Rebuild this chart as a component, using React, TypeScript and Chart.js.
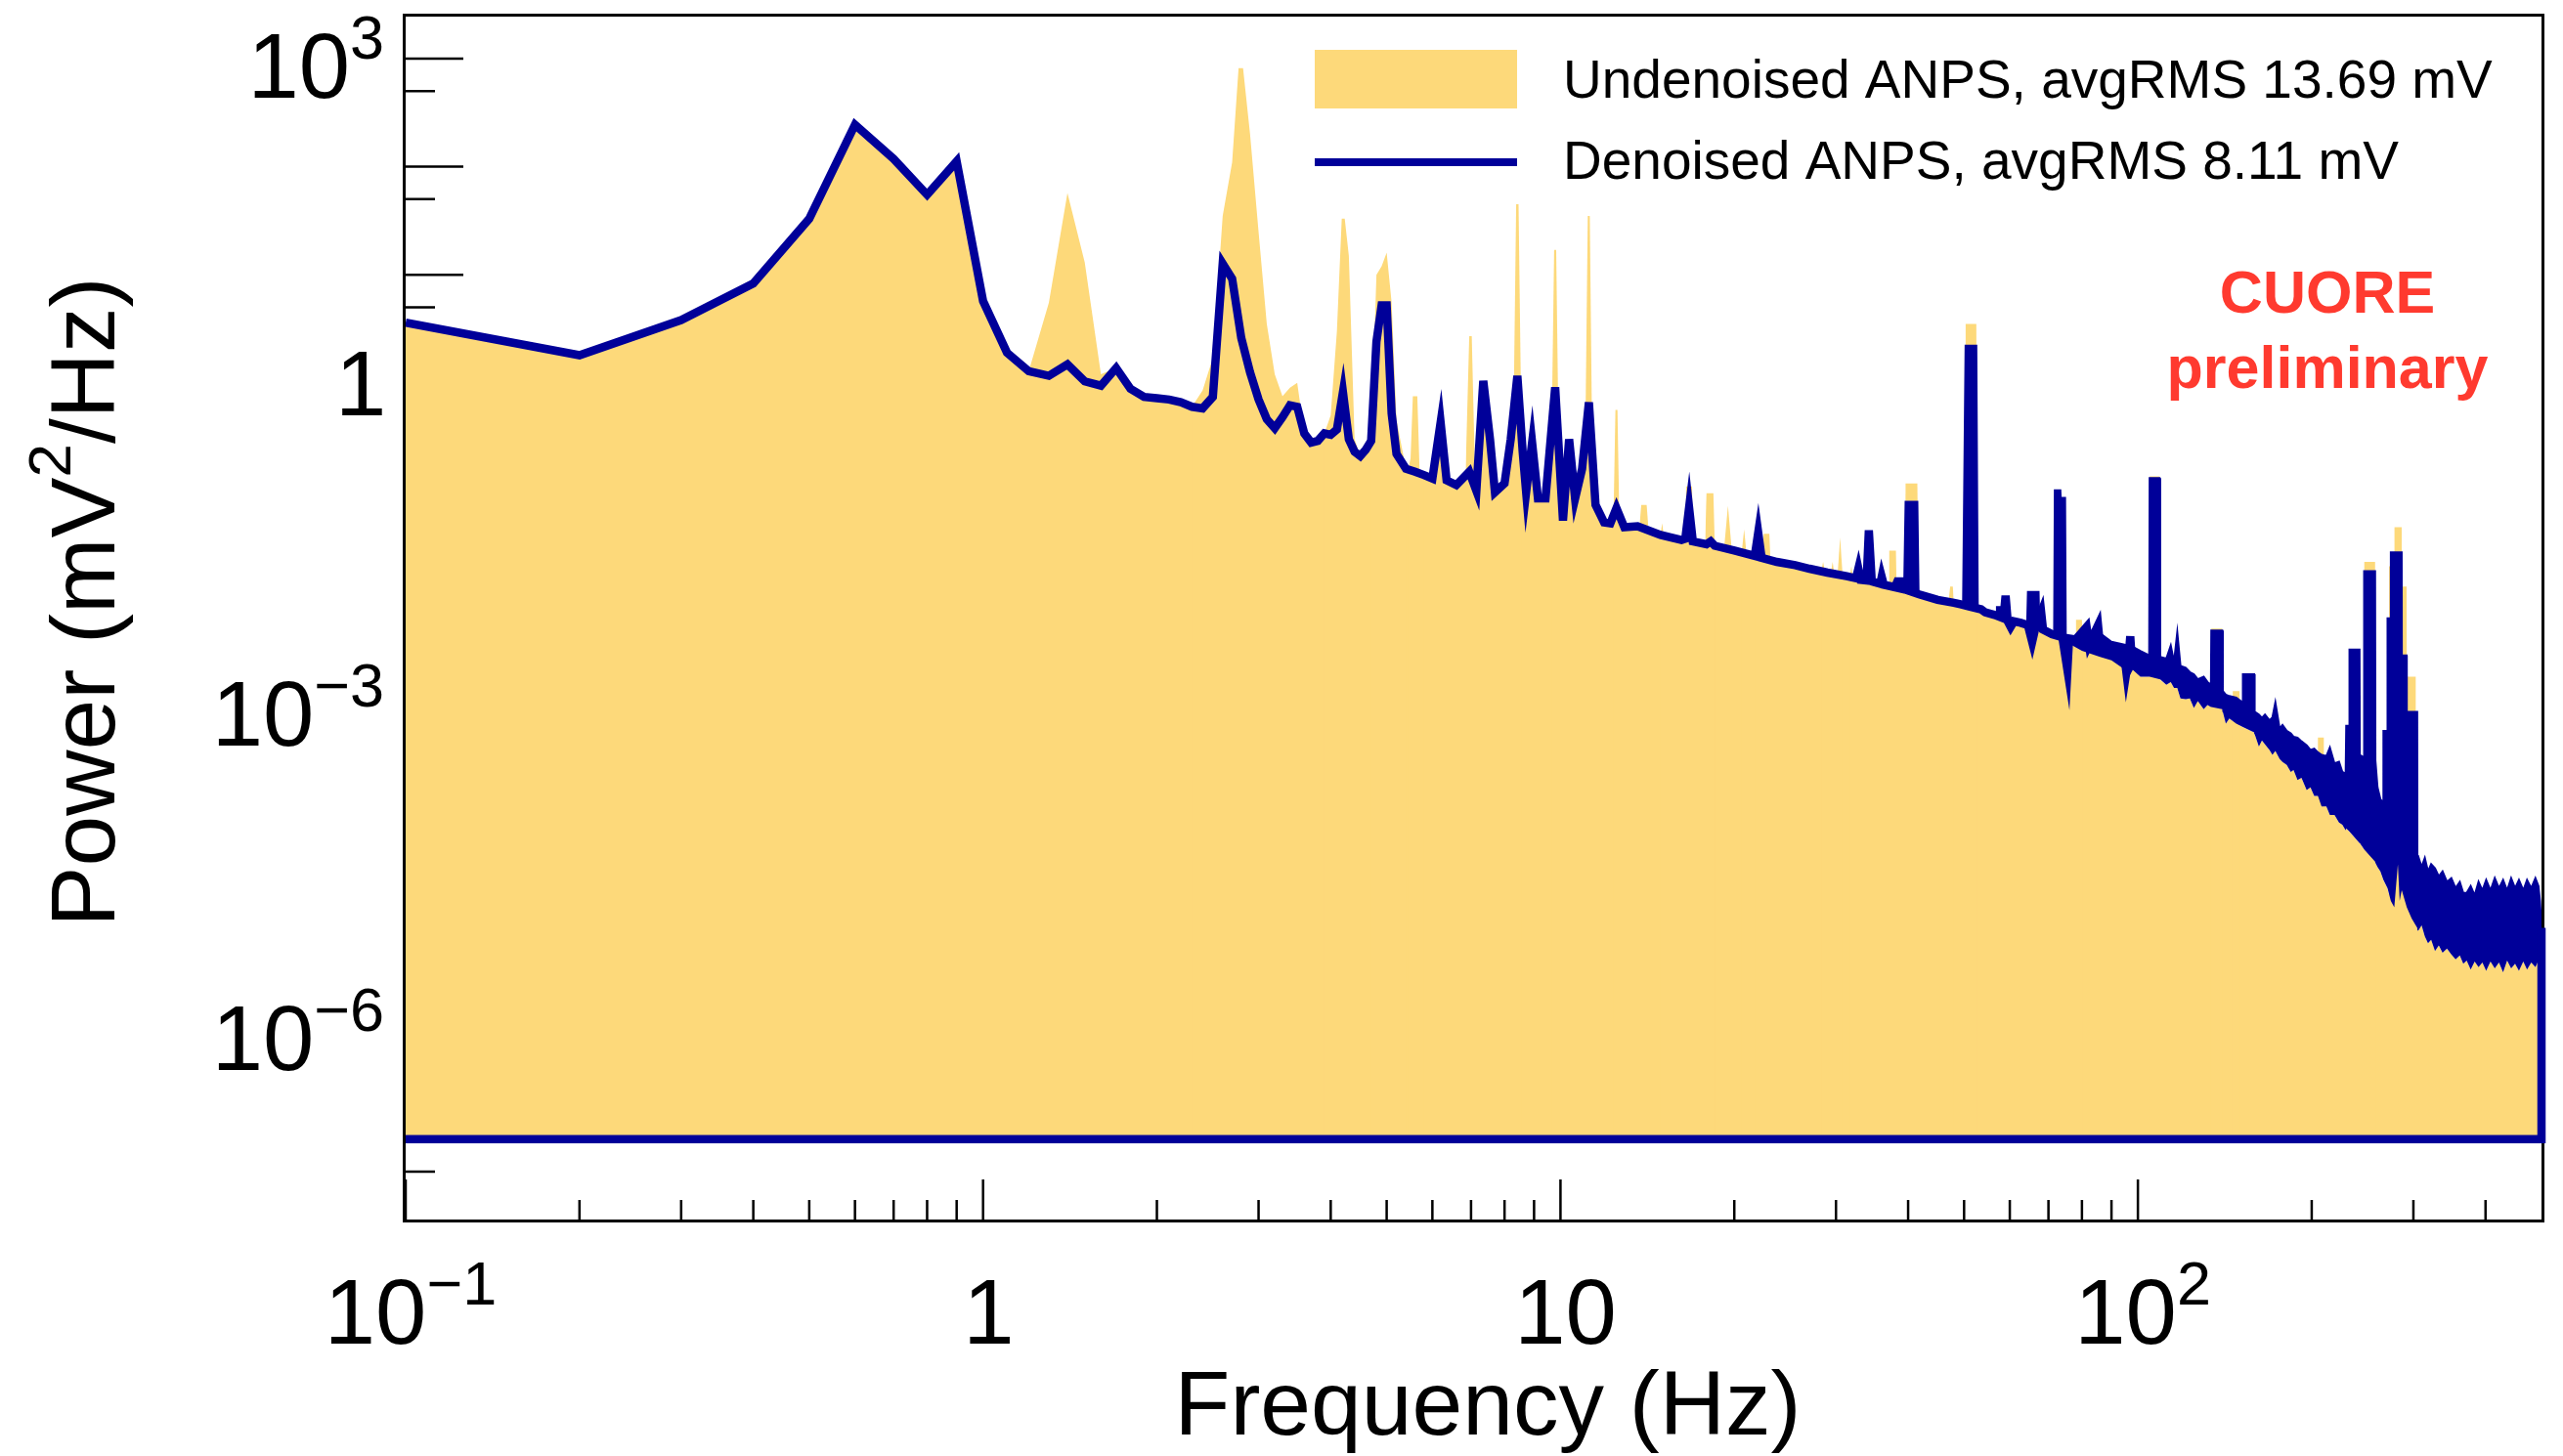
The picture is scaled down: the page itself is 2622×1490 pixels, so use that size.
import React, { useEffect, useRef } from 'react';
import { Chart, registerables } from 'chart.js';

Chart.register(...registerables);

const FONT = '"Liberation Sans", Arial, Helvetica, sans-serif';
const BLUE = '#000099';
const YELLOW = '#fdd97a';
const RED = '#ff3a2f';

const X_MIN = 0.1;
const X_MAX = 500;
const Y_MIN = 1.8e-8;
const Y_MAX = 2450;
const BASELINE = 1e-7;

type P = [number, number];

// Denoised ANPS, centre of the drawn line, frequency (Hz) / power (mV^2/Hz)
const denoisedLine: P[] = [
  [0.1, 3.6], [0.2, 1.8], [0.3, 3.8], [0.4, 8.3], [0.5, 33], [0.6, 245], [0.7, 118], [0.8, 55], [0.9, 112], [1.0, 5.7],
  [1.1, 1.9], [1.2, 1.28], [1.3, 1.16], [1.4, 1.48], [1.5, 1.03], [1.6, 0.94], [1.7, 1.37], [1.8, 0.88], [1.9, 0.74], [2.0, 0.72],
  [2.1, 0.7], [2.2, 0.66], [2.3, 0.6], [2.4, 0.58], [2.5, 0.74], [2.6, 12.7], [2.7, 9.2], [2.8, 2.6], [2.9, 1.25], [3.0, 0.7],
  [3.1, 0.46], [3.2, 0.38], [3.3, 0.48], [3.4, 0.62], [3.5, 0.6], [3.6, 0.34], [3.7, 0.28], [3.8, 0.29], [3.9, 0.34], [4.0, 0.33],
  [4.1, 0.37], [4.2, 0.82], [4.3, 0.3], [4.4, 0.23], [4.5, 0.21], [4.6, 0.24], [4.7, 0.29], [4.8, 2.4], [4.9, 5.2], [5.0, 5.2],
  [5.1, 0.52], [5.2, 0.22], [5.4, 0.16], [5.6, 0.15], [5.8, 0.14], [6.0, 0.13], [6.2, 0.43], [6.35, 0.125], [6.6, 0.113], [6.95, 0.15],
  [7.15, 0.1], [7.35, 1.04], [7.55, 0.3], [7.7, 0.097], [8.0, 0.117], [8.2, 0.3], [8.42, 1.16], [8.6, 0.23], [8.72, 0.097], [8.93, 0.28],
  [9.14, 0.085], [9.42, 0.085], [9.79, 0.91], [10.1, 0.053], [10.35, 0.3], [10.6, 0.085], [10.9, 0.16], [11.2, 0.66], [11.5, 0.074], [11.9, 0.051],
  [12.2, 0.05], [12.5, 0.069], [12.9, 0.046], [13.6, 0.047], [14.9, 0.039], [16.2, 0.035], [16.45, 0.036], [16.7, 0.07], [16.95, 0.034], [17.9, 0.032],
  [18.2, 0.034], [18.5, 0.031], [20, 0.028], [21.7, 0.025], [22.0, 0.041], [22.3, 0.024], [23.7, 0.022], [25.5, 0.0205], [27, 0.019], [29, 0.0175],
  [31.3, 0.0162], [32.5, 0.0155], [32.8, 0.019], [33.1, 0.015], [33.9, 0.0148], [34.2, 0.043], [34.6, 0.0145], [35.8, 0.0138], [36.0, 0.016], [36.3, 0.0135],
  [38, 0.0128], [39.5, 0.0122], [41.8, 0.011], [45, 0.0098], [48, 0.0092], [49.3, 0.0089], [51, 0.0085], [53.5, 0.008], [54.4, 0.0075], [56.5, 0.0071],
  [58.5, 0.0066], [59.0, 0.0107], [59.5, 0.0062], [60.2, 0.0055], [61, 0.0062], [62.7, 0.006], [64.5, 0.0057], [65.6, 0.004], [66.5, 0.0055], [68, 0.0075],
  [68.5, 0.0052], [71, 0.0047], [74, 0.0044], [75.5, 0.0022], [76, 0.0043], [78, 0.0042], [81.5, 0.0055], [82.3, 0.0038], [85.3, 0.0057], [86, 0.0036],
  [90, 0.0033], [94.8, 0.0029], [95.5, 0.0021], [96.3, 0.0028], [97, 0.0045], [97.6, 0.0027], [100, 0.0026],
];

// Denoised ANPS dense band: frequency, upper envelope, lower envelope
const denoisedBand: [number, number, number][] = [
  [37.5, 0.0131, 0.0129], [38.0, 0.0155, 0.0126], [39.4, 0.0155, 0.0122], [39.6, 0.079, 0.0121], [41.5, 0.079, 0.0112],
  [41.7, 0.0112, 0.011], [49.8, 0.0089, 0.0087], [50.3, 2.2, 0.0087], [52.5, 2.2, 0.0082], [52.8, 0.0081, 0.0079],
  [56.8, 0.0071, 0.0069], [57.0, 0.0084, 0.0069], [58.2, 0.0084, 0.0067], [58.4, 0.0067, 0.0065], [64.3, 0.0058, 0.0055],
  [64.5, 0.0116, 0.0055], [67.3, 0.0116, 0.0052], [67.5, 0.0052, 0.005], [71.6, 0.0047, 0.0045], [71.8, 0.101, 0.0045],
  [73.4, 0.101, 0.0044], [73.5, 0.086, 0.0044], [74.8, 0.086, 0.0043], [75.0, 0.0043, 0.004], [80, 0.0045, 0.0033],
  [86, 0.0048, 0.0029], [90, 0.004, 0.0027], [94, 0.0038, 0.0023], [96, 0.0037, 0.0018], [98, 0.0036, 0.0022], [101, 0.0033, 0.0019], [104.6, 0.003, 0.0019],
  [104.8, 0.131, 0.0019], [109.0, 0.131, 0.0018], [109.3, 0.0029, 0.0018], [112, 0.0028, 0.0016], [114, 0.0037, 0.0017],
  [115.5, 0.0026, 0.0015], [117, 0.0049, 0.0015], [118.5, 0.0024, 0.0012], [121, 0.0023, 0.00118], [123, 0.0021, 0.0012],
  [125, 0.002, 0.00098], [127, 0.0018, 0.00113], [130, 0.0019, 0.00095], [132, 0.0017, 0.00104], [133.8, 0.0016, 0.001], [134, 0.0051, 0.001],
  [140, 0.0051, 0.00095], [140.3, 0.0014, 0.0009], [142, 0.0013, 0.0007], [144, 0.00126, 0.00078], [148, 0.00122, 0.0007], [151.8, 0.0011, 0.00065],
  [152, 0.002, 0.00065], [159, 0.002, 0.00058], [159.3, 0.0009, 0.00056], [162, 0.00085, 0.00043], [164, 0.00079, 0.00049], [166, 0.00085, 0.00045],
  [169, 0.00075, 0.0004], [171, 0.0008, 0.00036], [173, 0.0011, 0.00039], [176, 0.00063, 0.00033], [178, 0.00068, 0.00031], [181, 0.0006, 0.00029],
  [184, 0.00057, 0.00025], [186, 0.00053, 0.00026], [189, 0.00052, 0.00021], [192, 0.00048, 0.00022], [196, 0.00044, 0.00017],
  [199, 0.0004, 0.00018], [202, 0.00041, 0.00015], [205, 0.00038, 0.00015], [208, 0.00036, 0.00012], [212, 0.00035, 0.00012],
  [215, 0.00042, 0.0001], [219, 0.0003, 0.0001], [223, 0.00031, 0.000085], [226, 0.00025, 0.000081], [229, 0.00024, 0.000072],
  [229.5, 0.00067, 0.000075], [232.3, 0.00067, 0.00007], [232.5, 0.0034, 0.00007], [242, 0.0034, 0.000055], [242.3, 0.00036, 0.000055],
  [246.3, 0.00034, 0.000048], [246.5, 0.018, 0.000048], [257.5, 0.018, 0.000037], [257.8, 0.00032, 0.000036], [260, 0.00018, 0.000033],
  [263, 0.00014, 0.00003], [266, 0.00013, 0.000025], [266.2, 0.0006, 0.000025], [270.4, 0.0006, 0.000021], [270.6, 0.0066, 0.000021],
  [274.0, 0.0066, 0.000016], [274.2, 0.027, 0.000016], [278, 0.027, 0.000014], [282, 0.027, 0.000035], [284, 0.027, 0.000016],
  [286.3, 0.027, 0.00002], [286.5, 0.003, 0.00002], [292, 0.003, 0.000014], [292.2, 0.0009, 0.000014], [298, 0.0009, 0.000011],
  [304.6, 0.0009, 0.000009], [304.8, 0.00004, 0.0000085], [306, 0.000041, 0.0000085], [310, 0.000033, 0.0000095], [314, 0.00004, 0.0000075],
  [318, 0.00003, 0.0000065], [322, 0.000035, 0.000007], [327, 0.000032, 0.0000055], [332, 0.000027, 0.0000062], [337, 0.00003, 0.0000053],
  [343, 0.000024, 0.0000058], [349, 0.000026, 0.0000051], [355, 0.000021, 0.0000046], [361, 0.000024, 0.000005], [366, 0.000019, 0.0000042],
  [371, 0.000019, 0.0000045], [377, 0.000022, 0.0000037], [383, 0.000018, 0.0000044], [389, 0.000024, 0.0000039], [395, 0.00002, 0.0000043],
  [401, 0.000025, 0.0000036], [408, 0.00002, 0.0000044], [415, 0.000026, 0.0000038], [422, 0.000021, 0.0000043], [429, 0.000025, 0.0000035],
  [436, 0.00002, 0.0000045], [443, 0.000026, 0.0000038], [450, 0.000021, 0.0000042], [457, 0.000025, 0.0000036], [465, 0.00002, 0.0000044],
  [472, 0.000025, 0.0000037], [480, 0.000021, 0.0000043], [488, 0.000026, 0.0000039], [494, 0.000022, 0.0000045], [497, 0.000016, 0.0000045],
  [500, 0.000009, 0.0000045],
];

// Undenoised ANPS lines rising above the denoised spectrum
const undenoisedPeaks: P[][] = [
  [[1.2, 1.28], [1.3, 5.5], [1.4, 57], [1.5, 13], [1.6, 1.2], [1.7, 1.37]],
  [[2.3, 0.6], [2.4, 0.85], [2.5, 1.7], [2.6, 35], [2.7, 110], [2.77, 815], [2.82, 815], [2.9, 200], [3.0, 25], [3.1, 3.5], [3.2, 1.2], [3.3, 0.75], [3.4, 0.9], [3.5, 1.0], [3.6, 0.34]],
  [[3.9, 0.34], [4.0, 0.5], [4.1, 3], [4.18, 33], [4.23, 33], [4.3, 15], [4.4, 0.3], [4.5, 0.21]],
  [[4.7, 0.29], [4.8, 10], [4.9, 12], [5.0, 16], [5.1, 5.5], [5.2, 0.45], [5.4, 0.16]],
  [[5.45, 0.16], [5.5, 0.2], [5.55, 0.75], [5.65, 0.75], [5.7, 0.16], [5.8, 0.14]],
  [[6.85, 0.15], [6.95, 2.7], [7.02, 2.7], [7.12, 0.11]],
  [[8.28, 0.25], [8.38, 45], [8.46, 45], [8.56, 0.3]],
  [[9.64, 0.2], [9.75, 17], [9.83, 17], [9.95, 0.1]],
  [[11.03, 0.2], [11.15, 35], [11.24, 35], [11.36, 0.15]],
  [[12.35, 0.05], [12.45, 0.56], [12.55, 0.56], [12.65, 0.05]],
  [[13.7, 0.046], [13.8, 0.074], [14.1, 0.074], [14.2, 0.045]],
  [[14.9, 0.039], [15.0, 0.05], [15.1, 0.038]],
  [[16.45, 0.036], [16.5, 0.11], [16.9, 0.11], [16.95, 0.034]],
  [[17.8, 0.032], [17.9, 0.095], [18.4, 0.095], [18.5, 0.031]],
  [[19.2, 0.029], [19.5, 0.073], [19.8, 0.028]],
  [[20.6, 0.027], [20.8, 0.044], [21.0, 0.026]],
  [[21.7, 0.025], [22.0, 0.063], [22.3, 0.024], [22.5, 0.04], [23.0, 0.04], [23.1, 0.023]],
  [[28.3, 0.018], [28.5, 0.022], [28.7, 0.018]],
  [[29.4, 0.0175], [29.6, 0.022], [29.8, 0.017]],
  [[30.2, 0.017], [30.5, 0.037], [30.8, 0.0165]],
  [[31.7, 0.016], [31.9, 0.02], [32.1, 0.0158]],
  [[37.0, 0.013], [37.1, 0.028], [38.1, 0.028], [38.2, 0.0127]],
  [[39.5, 0.0122], [39.6, 0.117], [41.5, 0.117], [41.7, 0.011]],
  [[47.0, 0.0094], [47.3, 0.013], [47.8, 0.013], [48.0, 0.0092]],
  [[50.2, 0.0087], [50.3, 3.5], [52.5, 3.5], [52.7, 0.0081]],
  [[78.0, 0.0042], [78.1, 0.0064], [80.0, 0.0064], [80.2, 0.0041]],
  [[104.6, 0.0019], [104.8, 0.136], [109.0, 0.136], [109.3, 0.0018]],
  [[133.8, 0.001], [134.0, 0.0053], [140.0, 0.0053], [140.3, 0.0009]],
  [[145.8, 0.0007], [146.0, 0.0014], [150.0, 0.0014], [150.2, 0.00068]],
  [[204.8, 0.00015], [205.0, 0.00052], [210.0, 0.00052], [210.2, 0.00013]],
  [[246.3, 0.000048], [246.5, 0.022], [257.5, 0.022], [257.8, 0.000036]],
  [[272.0, 0.00002], [272.2, 0.02], [278.0, 0.02], [278.2, 0.046], [286.3, 0.046], [286.5, 0.013], [292.0, 0.013], [292.2, 0.0019], [303.0, 0.0019], [303.2, 0.00001]],
];

const lastBin: P = [500, 0.000009];

const xTickMultipliers = [1, 2, 3, 4, 5, 6, 7, 8, 9];
const yTickMultipliers = [1, 5];
const xLabelExps = [-1, 0, 1, 2];
const yLabelExps = [3, 0, -3, -6];
const legendLabels = ['Undenoised ANPS, avgRMS 13.69 mV', 'Denoised ANPS, avgRMS 8.11 mV'];
const stampLines = ['CUORE', 'preliminary'];
const xTitle = 'Frequency (Hz)';
const yTitleParts = ['Power (mV', '2', '/Hz)'];

function drawPower(
  ctx: CanvasRenderingContext2D,
  exp: number,
  anchorX: number,
  baseY: number,
  expY: number,
  mode: 'right' | 'center',
  baseSize: number,
  expSize: number,
) {
  const base = exp === 0 ? '1' : '10';
  const sup = exp === 0 || exp === 1 ? '' : (exp < 0 ? '\u2212' : '') + Math.abs(exp);
  ctx.textAlign = 'left';
  ctx.textBaseline = 'alphabetic';
  ctx.font = `${baseSize}px ${FONT}`;
  const mb = ctx.measureText(base);
  let meRight = 0;
  if (sup) {
    ctx.font = `${expSize}px ${FONT}`;
    meRight = ctx.measureText(sup).actualBoundingBoxRight;
  }
  const inkLeft = -mb.actualBoundingBoxLeft;
  const inkRight = sup ? mb.width + meRight : mb.actualBoundingBoxRight;
  const left = mode === 'right' ? anchorX - inkRight : anchorX - (inkLeft + inkRight) / 2;
  ctx.font = `${baseSize}px ${FONT}`;
  ctx.fillText(base, left, baseY);
  if (sup) {
    ctx.font = `${expSize}px ${FONT}`;
    ctx.fillText(sup, left + mb.width, expY);
  }
}

const rootStyle = {
  id: 'rootStyle',
  beforeDatasetsDraw(chart: any) {
    const { ctx, chartArea: a, scales } = chart;
    const x = scales.x;
    const y = scales.y;
    ctx.save();
    ctx.strokeStyle = '#000';
    ctx.lineWidth = 3;
    ctx.strokeRect(a.left - 1.5, a.top - 1.5, a.right - a.left + 3, a.bottom - a.top + 3);
    ctx.lineWidth = 2.5;
    ctx.beginPath();
    for (let k = -9; k <= 4; k++) {
      for (const m of yTickMultipliers) {
        const v = m * Math.pow(10, k);
        if (v < Y_MIN || v > Y_MAX) continue;
        const py = y.getPixelForValue(v);
        ctx.moveTo(a.left, py);
        ctx.lineTo(a.left + (m === 1 ? 59 : 30), py);
      }
    }
    for (let k = -1; k <= 2; k++) {
      for (const m of xTickMultipliers) {
        const v = m * Math.pow(10, k);
        if (v < X_MIN || v >= X_MAX) continue;
        const px = x.getPixelForValue(v);
        ctx.moveTo(px, a.bottom);
        ctx.lineTo(px, a.bottom - (m === 1 ? 41 : 20));
      }
    }
    ctx.stroke();
    ctx.restore();
  },
  afterDraw(chart: any) {
    const { ctx, scales } = chart;
    const x = scales.x;
    const y = scales.y;
    ctx.save();
    ctx.fillStyle = '#000';
    for (const e of yLabelExps) {
      const py = y.getPixelForValue(Math.pow(10, e));
      if (e === 0) drawPower(ctx, e, 391, py + 33, py, 'right', 94, 63);
      else drawPower(ctx, e, 391, py + 40, py, 'right', 94, 63);
    }
    for (const e of xLabelExps) {
      const px = x.getPixelForValue(Math.pow(10, e));
      drawPower(ctx, e, px + 7, 1375, 1335, 'center', 94, 63);
    }
    ctx.font = `93px ${FONT}`;
    ctx.textAlign = 'center';
    ctx.textBaseline = 'alphabetic';
    ctx.fillText(xTitle, 1522, 1468);
    ctx.save();
    ctx.translate(117, 616);
    ctx.rotate(-Math.PI / 2);
    ctx.textAlign = 'left';
    ctx.font = `93px ${FONT}`;
    const w1 = ctx.measureText(yTitleParts[0]).width;
    const w3 = ctx.measureText(yTitleParts[2]).width;
    ctx.font = `62px ${FONT}`;
    const w2 = ctx.measureText(yTitleParts[1]).width;
    let sx = -(w1 + w2 + w3) / 2;
    ctx.font = `93px ${FONT}`;
    ctx.fillText(yTitleParts[0], sx, 0);
    sx += w1;
    ctx.font = `62px ${FONT}`;
    ctx.fillText(yTitleParts[1], sx, -45);
    sx += w2;
    ctx.font = `93px ${FONT}`;
    ctx.fillText(yTitleParts[2], sx, 0);
    ctx.restore();
    ctx.fillStyle = YELLOW;
    ctx.fillRect(1345, 51, 207, 60);
    ctx.strokeStyle = BLUE;
    ctx.lineWidth = 8;
    ctx.lineCap = 'butt';
    ctx.beginPath();
    ctx.moveTo(1345, 166);
    ctx.lineTo(1552, 166);
    ctx.stroke();
    ctx.fillStyle = '#000';
    ctx.font = `55px ${FONT}`;
    ctx.textAlign = 'left';
    ctx.fillText(legendLabels[0], 1599, 100);
    ctx.fillText(legendLabels[1], 1599, 183);
    ctx.fillStyle = RED;
    ctx.font = `bold 61px ${FONT}`;
    ctx.textAlign = 'center';
    ctx.fillText(stampLines[0], 2381, 320);
    ctx.fillText(stampLines[1], 2381, 397);
    ctx.restore();
  },
};

export default function App() {
  const ref = useRef<HTMLCanvasElement>(null);
  useEffect(() => {
    document.body.style.margin = '0';
    document.body.style.overflow = 'hidden';
    const canvas = ref.current;
    if (!canvas) return;
    const toXY = (pts: P[]) => pts.map(([px, py]) => ({ x: px, y: py }));
    const yellowBase: P[] = [
      ...denoisedLine.filter(([f]) => f <= 100),
      ...denoisedBand.filter(([f]) => f > 100).map(([f, , lo]) => [f, lo] as P),
    ];
    const peakData: { x: number; y: number | null }[] = [];
    undenoisedPeaks.forEach((pk, i) => {
      if (i > 0) peakData.push({ x: pk[0][0], y: null });
      pk.forEach(([f, v]) => peakData.push({ x: f, y: v }));
    });
    const chart = new Chart(canvas, {
      type: 'line',
      data: {
        datasets: [
          {
            label: legendLabels[0],
            data: toXY(yellowBase),
            fill: { value: BASELINE },
            backgroundColor: YELLOW,
            borderColor: 'rgba(0,0,0,0)',
            borderWidth: 0,
            pointRadius: 0,
            order: 6,
          },
          {
            label: legendLabels[0] + ' lines',
            data: peakData,
            fill: { value: BASELINE },
            backgroundColor: YELLOW,
            borderColor: 'rgba(0,0,0,0)',
            borderWidth: 0,
            pointRadius: 0,
            spanGaps: false,
            order: 5,
          },
          {
            label: legendLabels[1] + ' lower',
            data: denoisedBand.map(([f, , lo]) => ({ x: f, y: lo })),
            fill: false,
            borderColor: 'rgba(0,0,0,0)',
            borderWidth: 0,
            pointRadius: 0,
            order: 4,
          },
          {
            label: legendLabels[1] + ' upper',
            data: denoisedBand.map(([f, hi]) => ({ x: f, y: hi })),
            fill: '-1',
            backgroundColor: BLUE,
            borderColor: BLUE,
            borderWidth: 2,
            pointRadius: 0,
            order: 3,
          },
          {
            label: legendLabels[1],
            data: toXY(denoisedLine),
            fill: false,
            borderColor: BLUE,
            borderWidth: 8.5,
            borderJoinStyle: 'miter',
            pointRadius: 0,
            order: 2,
          },
          {
            label: legendLabels[1] + ' outline',
            data: toXY([lastBin, [X_MAX, BASELINE], [X_MIN, BASELINE]]),
            fill: false,
            borderColor: BLUE,
            borderWidth: 8.5,
            pointRadius: 0,
            order: 1,
            clip: { left: 0, top: 0, right: 6, bottom: 0 },
          },
        ] as any,
      },
      options: {
        responsive: false,
        devicePixelRatio: 1,
        animation: false,
        events: [],
        layout: { padding: { left: 415, right: 22, top: 17, bottom: 242 } },
        plugins: { legend: { display: false }, tooltip: { enabled: false } },
        scales: {
          x: { type: 'logarithmic', min: X_MIN, max: X_MAX, display: false, bounds: 'data' },
          y: { type: 'logarithmic', min: Y_MIN, max: Y_MAX, display: false, bounds: 'data' },
        },
      } as any,
      plugins: [rootStyle],
    });
    return () => chart.destroy();
  }, []);
  return (
    <div style={{ width: 2622, height: 1490, background: '#fff' }}>
      <canvas ref={ref} width={2622} height={1490} style={{ display: 'block' }} />
    </div>
  );
}
